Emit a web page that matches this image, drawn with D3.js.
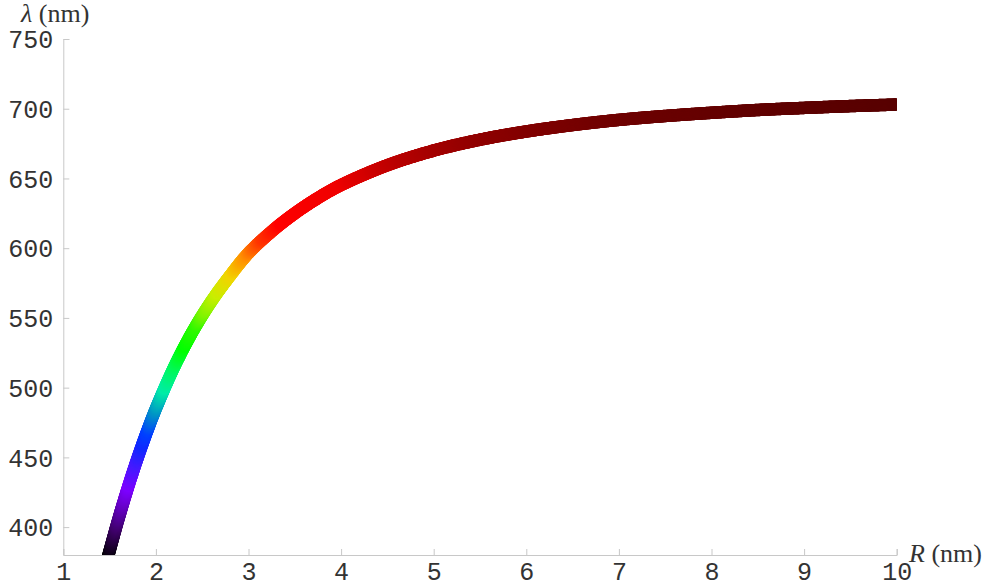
<!DOCTYPE html>
<html>
<head>
<meta charset="utf-8">
<script src="https://cdn.jsdelivr.net/npm/d3@7"></script>
<style>
  html, body { margin: 0; padding: 0; background: #fff; }
  svg { display: block; }
</style>
</head>
<body>
<script>
// Emission wavelength of a quantum dot against its radius
const radius = [1.45, 1.5, 1.6, 1.7, 1.8, 1.9, 2.0, 2.2, 2.4, 2.6, 2.8, 3.0, 3.25, 3.5, 3.75,
                4.0, 4.5, 5.0, 5.5, 6.0, 6.5, 7.0, 7.5, 8.0, 8.5, 9.0, 9.5, 10.0];
const wavelength = [370.4, 383.0, 406.8, 428.8, 449.1, 467.8, 485.0, 515.2, 540.6, 562.0, 580.2, 596.5, 612.0, 625.0, 636.0,
                    645.3, 659.5, 670.0, 677.8, 683.7, 688.3, 692.0, 694.8, 697.1, 699.1, 700.6, 701.9, 703.0];

const xTicks = [1, 2, 3, 4, 5, 6, 7, 8, 9, 10];
const yTicks = [400, 450, 500, 550, 600, 650, 700, 750];

// Visible spectrum colour stops (nm → colour)
const spectrumNm = [380, 400, 420, 430, 445, 460, 470, 484, 500, 515, 530, 545, 555, 568, 582, 595, 606, 618, 645, 660, 675, 690, 705];
const spectrumColor = ["#000000", "#3c0064", "#6a00d0", "#7c00ff", "#4a18ff", "#1028ff", "#0040ff", "#0090c8", "#00eca8", "#00f860",
                       "#00ff00", "#30f800", "#80f400", "#c8ee00", "#f2d400", "#ff9000", "#ff3800", "#ff0000", "#f00000", "#c20000",
                       "#980000", "#740000", "#540000"];

const W = 987, H = 587;
const x = d3.scaleLinear().domain([1, 10]).range([63.3, 896.7]);
const y = d3.scaleLinear().domain([380, 750]).range([555, 39]);
const spectrum = d3.scaleLinear().domain(spectrumNm).range(spectrumColor).clamp(true);

const svg = d3.select("body").append("svg").attr("width", W).attr("height", H);

svg.append("clipPath").attr("id", "plot-clip")
  .append("rect")
  .attr("x", x(1)).attr("y", 0)
  .attr("width", x(10) - x(1)).attr("height", y(380));

// Axes
const axisColor = "#c8c8c8";
const tickFont = "'Liberation Mono', 'DejaVu Sans Mono', monospace";

const xAxis = svg.append("g").attr("transform", `translate(0,${y(380)})`)
  .call(d3.axisBottom(x).tickValues(xTicks).tickSize(-6).tickPadding(7).tickFormat(d3.format("d")));
const yAxis = svg.append("g").attr("transform", `translate(${x(1)},0)`)
  .call(d3.axisLeft(y).tickValues(yTicks).tickSize(-6).tickPadding(10).tickFormat(d3.format("d")));

[xAxis, yAxis].forEach(g => {
  g.select(".domain").attr("stroke", axisColor).attr("stroke-width", 1);
  g.selectAll(".tick line").attr("stroke", axisColor);
  g.selectAll(".tick text")
    .attr("fill", "#333")
    .style("font-family", tickFont)
    .style("font-size", "25px");
});
xAxis.selectAll(".tick text").attr("dy", "0.71em");
yAxis.selectAll(".tick text").attr("dy", "0.35em");

// Curve, coloured by its own wavelength
const line = d3.line().x((d, i) => x(radius[i])).y(d => y(d)).curve(d3.curveCatmullRom.alpha(0.5));
const guide = svg.append("path").attr("d", line(wavelength)).attr("fill", "none").attr("stroke", "none");
const node = guide.node();
const total = node.getTotalLength();
const step = 1;
const pts = d3.range(0, total + step, step).map(l => node.getPointAtLength(Math.min(l, total)));

const curve = svg.append("g").attr("clip-path", "url(#plot-clip)");
for (let i = 0; i < pts.length - 1; i++) {
  const a = pts[i], b = pts[i + 1];
  const lam = y.invert((a.y + b.y) / 2);
  curve.append("line")
    .attr("x1", a.x).attr("y1", a.y).attr("x2", b.x).attr("y2", b.y)
    .attr("stroke", spectrum(lam))
    .attr("stroke-width", 12.5)
    .attr("stroke-linecap", "round");
}

// Axis titles
const serif = "'Liberation Serif', 'DejaVu Serif', serif";
const yTitle = svg.append("text").attr("x", 21).attr("y", 22)
  .style("font-family", serif).style("font-size", "26px").attr("fill", "#333");
yTitle.append("tspan").style("font-style", "italic").text("λ");
yTitle.append("tspan").text(" (nm)");

const xTitle = svg.append("text").attr("x", 909).attr("y", 562)
  .style("font-family", serif).style("font-size", "26px").attr("fill", "#333");
xTitle.append("tspan").style("font-style", "italic").text("R");
xTitle.append("tspan").text(" (nm)");
</script>
</body>
</html>
